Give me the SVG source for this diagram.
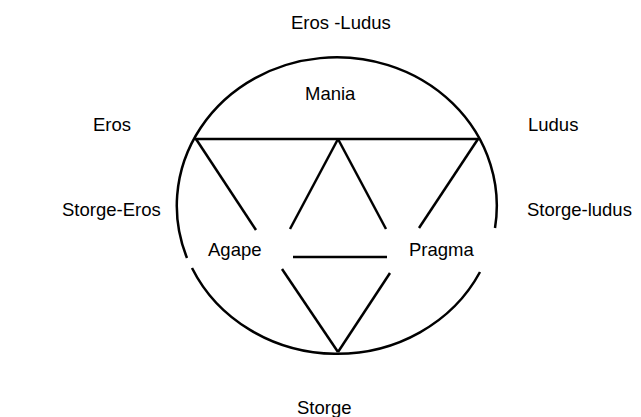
<svg xmlns="http://www.w3.org/2000/svg" width="641" height="417" viewBox="0 0 641 417">
<style>
text{font-family:"Liberation Sans",Arial,sans-serif;font-size:18.5px;fill:#000}
.ln{stroke:#000;stroke-width:2.5;fill:none;stroke-linecap:butt}
</style>
<rect width="641" height="417" fill="#fff"/>
<g id="connectors">
<path class="ln" d="M 480 272 A 160 148.5 0 0 1 192 268"/>
<path class="ln" d="M 187 258 A 160 148.5 0 1 1 495 228"/>
<line class="ln" x1="195" y1="139" x2="479" y2="139"/>
<line class="ln" x1="196" y1="139" x2="256" y2="230"/>
<line class="ln" x1="338" y1="139" x2="290" y2="229"/>
<line class="ln" x1="338" y1="139" x2="386" y2="229"/>
<line class="ln" x1="478" y1="139" x2="419" y2="228"/>
<line class="ln" x1="293" y1="257" x2="387" y2="257"/>
<line class="ln" x1="282" y1="269" x2="338" y2="352"/>
<line class="ln" x1="390" y1="273" x2="338" y2="352"/>
</g>
<g id="eros-ludus"><text x="291" y="29">Eros -Ludus</text></g>
<g id="mania"><text x="305" y="100">Mania</text></g>
<g id="eros"><text x="93" y="131">Eros</text></g>
<g id="ludus"><text x="528" y="131">Ludus</text></g>
<g id="storge-eros"><text x="62" y="216">Storge-Eros</text></g>
<g id="storge-ludus"><text x="527" y="216">Storge-ludus</text></g>
<g id="agape"><text x="208" y="256">Agape</text></g>
<g id="pragma"><text x="409" y="256">Pragma</text></g>
<g id="storge"><text x="297" y="414">Storge</text></g>
</svg>
